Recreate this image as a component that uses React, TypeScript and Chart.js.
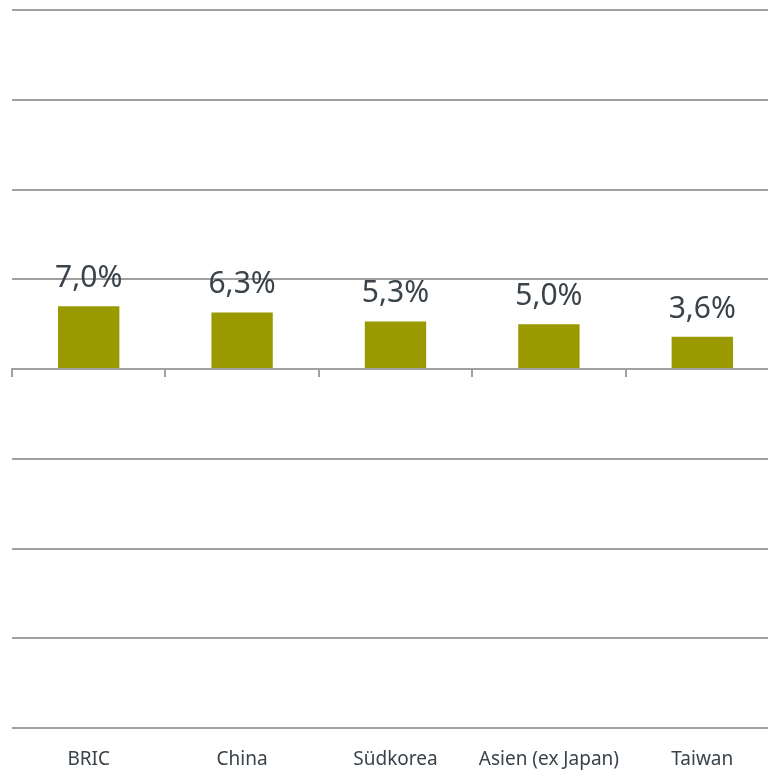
import React, { useEffect, useRef } from "react";
import { Chart, registerables } from "chart.js";

Chart.register(...registerables);

const categories = ["BRIC", "China", "Südkorea", "Asien (ex Japan)", "Taiwan"];
const values = [7.0, 6.3, 5.3, 5.0, 3.6];
const valueLabels = ["7,0%", "6,3%", "5,3%", "5,0%", "3,6%"];
const yMin = -40;
const yMax = 40;
const yStep = 10;

const GRID = "#a0a0a0";
const BAR = "#9a9900";
const TEXT = "#3a434a";

const valueLabelPlugin = {
  id: "valueLabels",
  afterDatasetsDraw(chart: any) {
    const ctx = chart.ctx;
    const meta = chart.getDatasetMeta(0);
    ctx.save();
    ctx.font = '30px "Noto Sans"';
    ctx.fillStyle = TEXT;
    ctx.textAlign = "center";
    ctx.textBaseline = "alphabetic";
    meta.data.forEach((el: any, i: number) => {
      ctx.fillText(valueLabels[i], el.x, el.y - 19);
    });
    ctx.restore();
  },
};

export default function App() {
  const ref = useRef<HTMLCanvasElement | null>(null);
  useEffect(() => {
    if (!ref.current) return;
    const chart = new Chart(ref.current, {
      type: "bar",
      data: {
        labels: categories,
        datasets: [
          {
            data: values,
            backgroundColor: BAR,
            borderWidth: 0,
            barPercentage: 0.4,
            categoryPercentage: 1,
          },
        ],
      },
      options: {
        animation: false,
        responsive: false,
        maintainAspectRatio: false,
        layout: { padding: { left: 12, top: 10, right: 0, bottom: 0 } },
        plugins: { legend: { display: false }, tooltip: { enabled: false } },
        scales: {
          x: {
            type: "category",
            offset: true,
            grid: { display: false },
            border: { display: false },
            afterFit(scale: any) {
              scale.height = 43;
            },
            ticks: {
              autoSkip: false,
              maxRotation: 0,
              padding: 12,
              color: TEXT,
              font: { family: '"Noto Sans"', size: 19 },
            },
          },
          x2: {
            type: "category",
            labels: categories,
            position: { y: 0 },
            offset: true,
            z: 1,
            afterFit(scale: any) {
              scale.height = 0;
            },
            grid: {
              display: true,
              offset: true,
              drawOnChartArea: false,
              drawTicks: true,
              tickLength: 7,
              color: GRID,
              lineWidth: 2,
            },
            border: { display: true, color: GRID, width: 2 },
            ticks: { display: false },
          },
          y: {
            min: yMin,
            max: yMax,
            grid: { color: GRID, lineWidth: 2, drawTicks: false },
            border: { display: false },
            ticks: { display: false, stepSize: yStep },
          },
        },
      },
      plugins: [valueLabelPlugin],
    } as any);
    return () => chart.destroy();
  }, []);
  return (
    <div
      style={{
        position: "fixed",
        left: 0,
        top: 0,
        width: 768,
        height: 771,
        overflow: "hidden",
        background: "#fff",
      }}
    >
      <canvas ref={ref} width={779} height={771} style={{ width: 779, height: 771, display: "block" }} />
    </div>
  );
}
